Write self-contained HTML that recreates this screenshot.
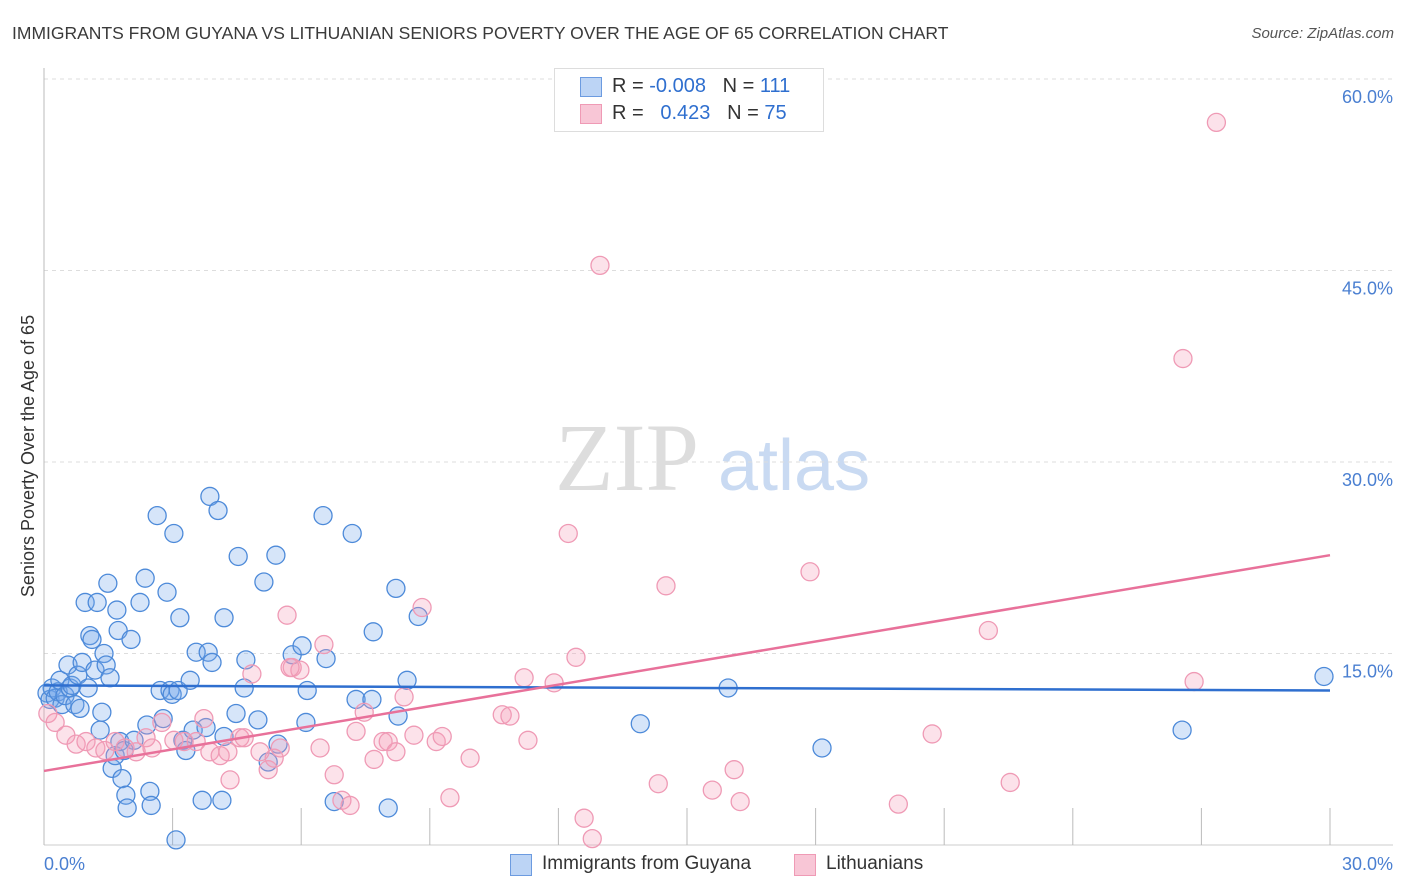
<!DOCTYPE html>
<html><head><meta charset="utf-8"><style>
body{margin:0;background:#fff;font-family:"Liberation Sans",sans-serif;}
#wrap{position:relative;width:1406px;height:892px;overflow:hidden;}
.t{position:absolute;white-space:nowrap;}
</style></head><body>
<div id="wrap">
<div class="t" style="left:12px;top:23px;font-size:17.5px;color:#3a3a3a;">IMMIGRANTS FROM GUYANA VS LITHUANIAN SENIORS POVERTY OVER THE AGE OF 65 CORRELATION CHART</div>
<div class="t" style="right:12px;top:25px;font-size:15px;color:#555;font-style:italic;">Source: ZipAtlas.com</div>
<svg id="svg" width="1406" height="892" style="position:absolute;left:0;top:0"></svg>
</div>
<script>
const xTickVals=[0,3,6,9,12,15,18,21,24,27,30];
const yTickVals=[15,30,45,60];
const yTickLabels=["15.0%","30.0%","45.0%","60.0%"];
const xAxisLabels=["0.0%","30.0%"];
const blueX=[.07,.14,.19,.26,.33,.37,.42,.49,.56,.61,.65,.72,.79,.84,.89,.96,1.03,1.07,1.12,1.19,1.24,1.31,1.35,1.40,1.45,1.49,1.54,1.59,1.66,1.70,1.73,1.77,1.82,1.87,1.91,1.94,2.03,2.10,2.24,2.36,2.40,2.47,2.50,2.64,2.71,2.78,2.87,2.94,2.99,3.03,3.13,3.17,3.24,3.31,3.41,3.48,3.55,3.69,3.78,3.83,3.87,3.92,4.06,4.15,4.20,4.20,4.48,4.53,4.67,4.71,4.99,5.13,5.23,5.41,5.46,5.79,6.02,6.14,6.11,6.51,6.58,6.77,7.19,7.28,7.65,7.68,8.03,8.21,8.26,8.47,8.73,13.91,15.96,18.15,26.55,29.86,3.08];
const blueY=[11.9,11.4,12.3,11.5,12.0,12.9,11.0,11.7,14.1,12.3,12.5,11.0,13.3,10.7,14.3,19.0,12.3,16.4,16.1,13.7,19.0,9.0,10.4,15.0,14.1,20.5,13.1,6.0,7.0,18.4,16.8,8.1,5.2,7.4,3.9,2.9,16.1,8.2,19.0,20.9,9.4,4.2,3.1,25.8,12.1,9.9,19.8,12.1,11.8,24.4,12.1,17.8,8.2,7.4,12.9,9.0,15.1,3.5,9.2,15.1,27.3,14.3,26.2,3.5,17.8,8.5,10.3,22.6,12.3,14.5,9.8,20.6,6.5,22.7,7.9,14.9,15.6,12.1,9.6,25.8,14.6,3.4,24.4,11.4,11.4,16.7,2.9,20.1,10.1,12.9,17.9,9.5,12.3,7.6,9.0,13.2,0.4];
const pinkX=[.09,.26,.51,.75,.98,1.21,1.42,1.66,1.89,2.15,2.38,2.52,2.75,3.03,3.27,3.55,3.73,3.87,4.11,4.29,4.57,4.67,4.85,5.04,5.23,5.37,5.51,5.67,5.79,5.97,6.44,6.53,6.77,6.95,7.14,7.28,7.47,7.70,7.91,8.03,8.21,8.40,8.63,8.82,9.15,9.29,9.47,9.94,10.69,10.87,11.20,11.29,11.90,12.23,12.41,12.60,12.79,12.97,14.33,14.51,15.59,16.10,16.24,17.87,19.93,20.72,22.03,22.54,26.57,26.83,27.35,4.34,5.74];
const pinkY=[10.3,9.6,8.6,7.9,8.1,7.6,7.4,8.1,7.6,7.3,8.4,7.6,9.6,8.2,8.1,8.1,9.9,7.3,7.0,7.3,8.4,8.4,13.4,7.3,5.9,6.8,7.6,18.0,13.9,13.7,7.6,15.7,5.5,3.5,3.1,8.9,10.4,6.7,8.1,8.1,7.3,11.6,8.6,18.6,8.1,8.5,3.7,6.8,10.2,10.1,13.1,8.2,12.7,24.4,14.7,2.1,0.5,45.4,4.8,20.3,4.3,5.9,3.4,21.4,3.2,8.7,16.8,4.9,38.1,12.8,56.6,5.1,13.9];
const blueTrend=[12.5,12.1];
const pinkTrend=[5.8,22.7];
const L=44,R=1330,B=845,PX=12.767;
const sx=v=>L+v/30*(R-L);
const sy=v=>B-v*PX;
const svg=document.getElementById('svg');
const NS='http://www.w3.org/2000/svg';
function mk(tag,attrs){const e=document.createElementNS(NS,tag);for(const k in attrs)e.setAttribute(k,attrs[k]);svg.appendChild(e);return e;}
// watermark
let w=mk('text',{x:555,y:490,'font-size':96,fill:'#ddd','font-family':'Liberation Serif'});w.textContent='ZIP';


w=mk('text',{x:718,y:490,'font-size':72,fill:'#c9daf2','font-family':'Liberation Sans'});w.textContent='atlas';


yTickVals.forEach((v,i)=>{
 const g=mk('line',{x1:L,x2:1393,y1:sy(v),y2:sy(v),stroke:'#ddd','stroke-dasharray':'4,4'});
 
 
 const t=mk('text',{x:1393,y:sy(v)+24,'text-anchor':'end','font-size':18,fill:'#4a7fd1'});t.textContent=yTickLabels[i];
 
 
});
let a=mk('line',{x1:L,x2:L,y1:68,y2:B,stroke:'#bbb'});


a=mk('line',{x1:L,x2:1393,y1:B,y2:B,stroke:'#ccc'});


xTickVals.forEach(v=>{const t=mk('line',{x1:sx(v),x2:sx(v),y1:808,y2:B,stroke:'#bbb'});
 
 });
let xl=mk('text',{x:44,y:870,'font-size':18,fill:'#4a7fd1'});xl.textContent=xAxisLabels[0];


xl=mk('text',{x:1393,y:870,'text-anchor':'end','font-size':18,fill:'#4a7fd1'});xl.textContent=xAxisLabels[1];


let yt=mk('text',{x:34,y:456,'font-size':18,fill:'#333',transform:'rotate(-90 34 456)','text-anchor':'middle'});yt.textContent='Seniors Poverty Over the Age of 65';


blueX.forEach((x,i)=>{const c=mk('circle',{cx:sx(x),cy:sy(blueY[i]),r:9,fill:'rgba(120,170,235,0.3)',stroke:'#4d8ad9','stroke-width':1.3});
 
 });
pinkX.forEach((x,i)=>{const c=mk('circle',{cx:sx(x),cy:sy(pinkY[i]),r:9,fill:'rgba(245,160,185,0.3)',stroke:'#ef9ab5','stroke-width':1.3});
 
 });
let tl=mk('line',{x1:sx(0),x2:sx(30),y1:sy(blueTrend[0]),y2:sy(blueTrend[1]),stroke:'#2f6fcf','stroke-width':2.5});


tl=mk('line',{x1:sx(0),x2:sx(30),y1:sy(pinkTrend[0]),y2:sy(pinkTrend[1]),stroke:'#e8719a','stroke-width':2.5});


</script>
<div style="position:absolute;left:554px;top:68px;width:268px;height:62px;border:1px solid #ddd;background:#fff;font-size:20px;color:#333;">
 <div style="position:absolute;left:25px;top:8px;width:20px;height:18px;background:#bcd4f5;border:1px solid #6c9be0"></div>
 <div class="t" style="left:57px;top:6px">R = <span style="color:#2f6fcf">-0.008</span>&nbsp;&nbsp;&nbsp;N = <span style="color:#2f6fcf">111</span></div>
 <div style="position:absolute;left:25px;top:35px;width:20px;height:18px;background:#f8c6d6;border:1px solid #ef9ab5"></div>
 <div class="t" style="left:57px;top:33px">R = &nbsp;&nbsp;<span style="color:#2f6fcf">0.423</span>&nbsp;&nbsp;&nbsp;N = <span style="color:#2f6fcf">75</span></div>
</div>
<div style="position:absolute;left:510px;top:852px;font-size:19px;color:#333;height:26px;width:440px">
 <div style="position:absolute;left:0;top:2px;width:20px;height:20px;background:#bcd4f5;border:1px solid #6c9be0"></div>
 <div class="t" style="left:32px;top:1px">Immigrants from Guyana</div>
 <div style="position:absolute;left:284px;top:2px;width:20px;height:20px;background:#f8c6d6;border:1px solid #ef9ab5"></div>
 <div class="t" style="left:316px;top:1px">Lithuanians</div>
</div>
</body></html>
